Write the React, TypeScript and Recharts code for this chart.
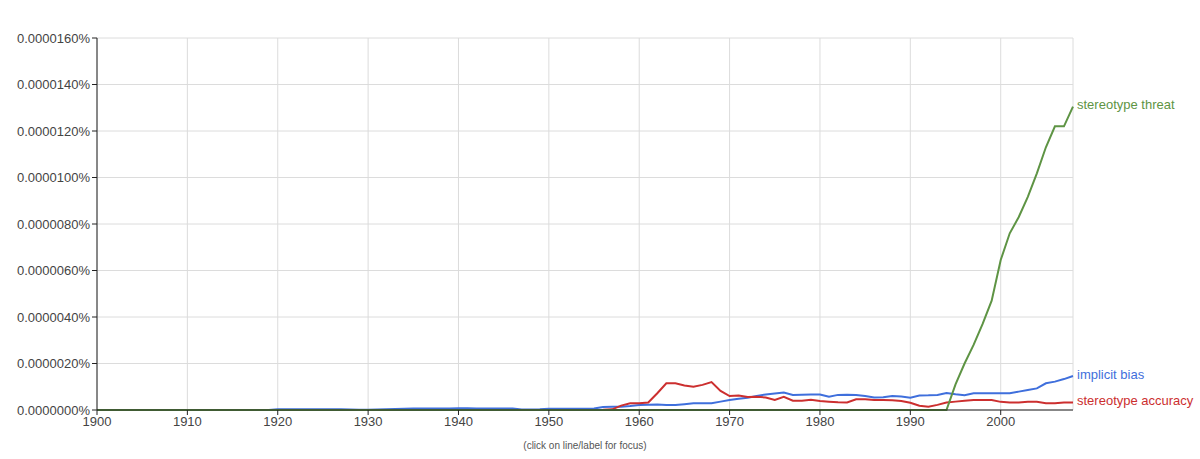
import { LineChart, Line, XAxis, YAxis, CartesianGrid, LabelList } from 'recharts';

// values in units of 0.0000001%
const years = [
  1900, 1901, 1902, 1903, 1904, 1905, 1906, 1907, 1908, 1909,
  1910, 1911, 1912, 1913, 1914, 1915, 1916, 1917, 1918, 1919,
  1920, 1921, 1922, 1923, 1924, 1925, 1926, 1927, 1928, 1929,
  1930, 1931, 1932, 1933, 1934, 1935, 1936, 1937, 1938, 1939,
  1940, 1941, 1942, 1943, 1944, 1945, 1946, 1947, 1948, 1949,
  1950, 1951, 1952, 1953, 1954, 1955, 1956, 1957, 1958, 1959,
  1960, 1961, 1962, 1963, 1964, 1965, 1966, 1967, 1968, 1969,
  1970, 1971, 1972, 1973, 1974, 1975, 1976, 1977, 1978, 1979,
  1980, 1981, 1982, 1983, 1984, 1985, 1986, 1987, 1988, 1989,
  1990, 1991, 1992, 1993, 1994, 1995, 1996, 1997, 1998, 1999,
  2000, 2001, 2002, 2003, 2004, 2005, 2006, 2007, 2008,
];

const implicitBias = [
  0, 0, 0, 0, 0, 0, 0, 0, 0, 0,
  0, 0, 0, 0, 0, 0, 0, 0, 0, 0,
  0.3, 0.3, 0.3, 0.3, 0.3, 0.3, 0.3, 0.3, 0.2, 0.1,
  0.1, 0.2, 0.3, 0.4, 0.5, 0.6, 0.6, 0.6, 0.6, 0.6,
  0.7, 0.7, 0.6, 0.6, 0.6, 0.6, 0.6, 0.2, 0.2, 0.3,
  0.5, 0.5, 0.5, 0.5, 0.5, 0.6, 1.3, 1.4, 1.4, 1.7,
  2.1, 2.3, 2.4, 2.1, 2.1, 2.5, 2.9, 2.9, 2.9, 3.6,
  4.3, 4.8, 5.3, 6.0, 6.7, 7.1, 7.5, 6.5, 6.6, 6.7,
  6.7, 5.7, 6.5, 6.6, 6.5, 6.0, 5.4, 5.5, 6.0, 5.8,
  5.3, 6.2, 6.3, 6.5, 7.3, 6.8, 6.4, 7.2, 7.2, 7.2,
  7.2, 7.2, 7.9, 8.6, 9.3, 11.5, 12.2, 13.3, 14.6,
];

const stereotypeAccuracy = [
  0, 0, 0, 0, 0, 0, 0, 0, 0, 0,
  0, 0, 0, 0, 0, 0, 0, 0, 0, 0,
  0, 0, 0, 0, 0, 0, 0, 0, 0, 0,
  0, 0, 0, 0, 0, 0, 0, 0, 0, 0,
  0, 0, 0, 0, 0, 0, 0, 0, 0, 0,
  0, 0, 0, 0, 0, 0, 0.1, 0.3, 1.9, 2.9,
  2.9, 3.2, 7.2, 11.5, 11.5, 10.5, 10.0, 10.8, 12.0, 8.2,
  6.0, 6.2, 5.6, 5.7, 5.4, 4.3, 5.7, 4.0, 4.0, 4.4,
  3.9, 3.6, 3.3, 3.2, 4.6, 4.6, 4.3, 4.3, 4.2, 3.9,
  3.1, 1.8, 1.4, 2.2, 3.2, 3.6, 4.0, 4.3, 4.3, 4.3,
  3.5, 3.2, 3.2, 3.5, 3.5, 2.9, 2.9, 3.2, 3.2,
];

const stereotypeThreat = [
  0, 0, 0, 0, 0, 0, 0, 0, 0, 0,
  0, 0, 0, 0, 0, 0, 0, 0, 0, 0,
  0, 0, 0, 0, 0, 0, 0, 0, 0, 0,
  0, 0, 0, 0, 0, 0, 0, 0, 0, 0,
  0, 0, 0, 0, 0, 0, 0, 0, 0, 0,
  0, 0, 0, 0, 0, 0, 0, 0, 0, 0,
  0, 0, 0, 0, 0, 0, 0, 0, 0, 0,
  0, 0, 0, 0, 0, 0, 0, 0, 0, 0,
  0, 0, 0, 0, 0, 0, 0, 0, 0, 0,
  0, 0, 0, 0, 0, 11, 20, 28, 37, 47,
  64.5, 76, 83, 91.7, 101.8, 113, 122, 122, 130.5,
];

const xTicks = [1900, 1910, 1920, 1930, 1940, 1950, 1960, 1970, 1980, 1990, 2000];
const yTicks = [0, 20, 40, 60, 80, 100, 120, 140, 160];

const series = [
  { key: 'implicit', name: 'implicit bias', color: '#3f6fdc' },
  { key: 'accuracy', name: 'stereotype accuracy', color: '#cc2f2f' },
  { key: 'threat', name: 'stereotype threat', color: '#5e9444' },
];

const data = years.map((year, i) => ({
  year,
  implicit: implicitBias[i],
  accuracy: stereotypeAccuracy[i],
  threat: stereotypeThreat[i],
}));

const FONT = '"Liberation Sans", Arial, sans-serif';
const last = years.length - 1;

const endLabel = (name: string, color: string) => (props: any) => {
  if (props.index !== last) return null;
  return (
    <text
      x={props.x + 4}
      y={props.y - 2}
      fill={color}
      fontSize={13}
      fontFamily={FONT}
      dominantBaseline="central"
    >
      {name}
    </text>
  );
};

export default function App() {
  return (
    <div style={{ position: 'absolute', left: 0, top: 0, width: 1200, height: 459, background: '#fff' }}>
      <LineChart
        width={1200}
        height={459}
        data={data}
        margin={{ top: 38, right: 127, bottom: 19, left: 0 }}
      >
        <CartesianGrid stroke="#dcdcdc" strokeWidth={1} />
        <XAxis
          dataKey="year"
          type="number"
          domain={[1900, 2008]}
          ticks={xTicks}
          interval={0}
          height={30}
          tickSize={5}
          stroke="#222"
          tick={{ fill: '#444', fontSize: 13, fontFamily: FONT }}
        />
        <YAxis
          type="number"
          domain={[0, 160]}
          ticks={yTicks}
          interval={0}
          width={97}
          tickSize={5}
          stroke="#222"
          tickFormatter={(v: number) => (v / 1e7).toFixed(7) + '%'}
          tick={{ fill: '#444', fontSize: 13, fontFamily: FONT }}
        />
        {series.map((s) => (
          <Line
            key={s.key}
            dataKey={s.key}
            type="linear"
            stroke={s.color}
            strokeWidth={2}
            dot={false}
            isAnimationActive={false}
          >
            <LabelList dataKey={s.key} content={endLabel(s.name, s.color)} />
          </Line>
        ))}
      </LineChart>
      <div
        style={{
          position: 'absolute',
          top: 440,
          left: 0,
          width: 1170,
          textAlign: 'center',
          fontFamily: FONT,
          fontSize: 10,
          color: '#555',
        }}
      >
        (click on line/label for focus)
      </div>
    </div>
  );
}
